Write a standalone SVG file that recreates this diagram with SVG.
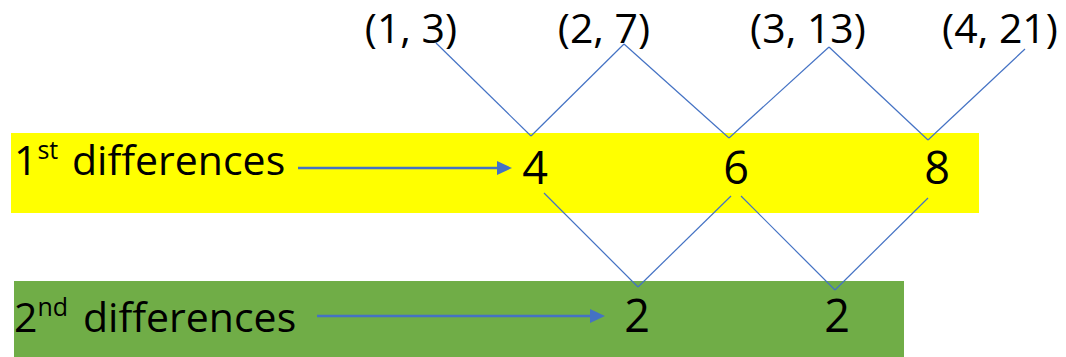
<svg xmlns="http://www.w3.org/2000/svg" width="1066" height="357" viewBox="0 0 1066 357">
  <defs>
    <style>
      .t { font-family: "Open Sans", "Liberation Sans", sans-serif; fill: #000; }
      .lbl { font-size: 41px; }
      .num { font-size: 45px; text-anchor: middle; }
      .pair { font-size: 41px; text-anchor: middle; }
      .sup { font-size: 25px; }
      .c { stroke: #4472C4; stroke-width: 1.2; fill: none; }
      .arr { stroke: #4472C4; stroke-width: 2.5; fill: none; }
      .head { fill: #4472C4; }
    </style>
  </defs>
  <rect width="1066" height="357" fill="#fff"/>
  <g id="band1"><rect x="11" y="133" width="968" height="80" fill="#FFFF00"/></g>
  <g id="band2"><rect x="14" y="281" width="890" height="76" fill="#70AD47"/></g>

  <g id="connectors">
    <line class="c" x1="436" y1="43" x2="531" y2="136"/>
    <line class="c" x1="624" y1="44" x2="531" y2="136"/>
    <line class="c" x1="624" y1="44" x2="729" y2="138"/>
    <line class="c" x1="829" y1="47" x2="729" y2="138"/>
    <line class="c" x1="829" y1="47" x2="928" y2="140"/>
    <line class="c" x1="1025" y1="49" x2="928" y2="140"/>
    <line class="c" x1="544" y1="193" x2="638" y2="287"/>
    <line class="c" x1="731" y1="196" x2="638" y2="287"/>
    <line class="c" x1="741" y1="196" x2="835" y2="290"/>
    <line class="c" x1="928" y1="198" x2="835" y2="290"/>
    <line class="arr" x1="298" y1="168" x2="498" y2="168"/>
    <polygon class="head" points="497,161 512,168 497,175"/>
    <line class="arr" x1="317" y1="316" x2="591" y2="316"/>
    <polygon class="head" points="590,309 605,316 590,323"/>
  </g>

  <g id="p1"><text class="t pair" x="411" y="43">(1, 3)</text></g>
  <g id="p2"><text class="t pair" x="604" y="43">(2, 7)</text></g>
  <g id="p3"><text class="t pair" x="808" y="43">(3, 13)</text></g>
  <g id="p4"><text class="t pair" x="1000" y="43">(4, 21)</text></g>

  <g id="label1"><text class="t lbl" x="14" y="175">1<tspan class="sup" dy="-16">st</tspan><tspan x="72" dy="16">differences</tspan></text></g>
  <g id="label2"><text class="t lbl" x="14" y="332">2<tspan class="sup" dy="-16">nd</tspan><tspan x="83" dy="16">differences</tspan></text></g>

  <g id="d1a"><text class="t num" x="535" y="184">4</text></g>
  <g id="d1b"><text class="t num" x="736" y="184">6</text></g>
  <g id="d1c"><text class="t num" x="937" y="184">8</text></g>
  <g id="d2a"><text class="t num" x="637" y="332">2</text></g>
  <g id="d2b"><text class="t num" x="837" y="332">2</text></g>
</svg>
